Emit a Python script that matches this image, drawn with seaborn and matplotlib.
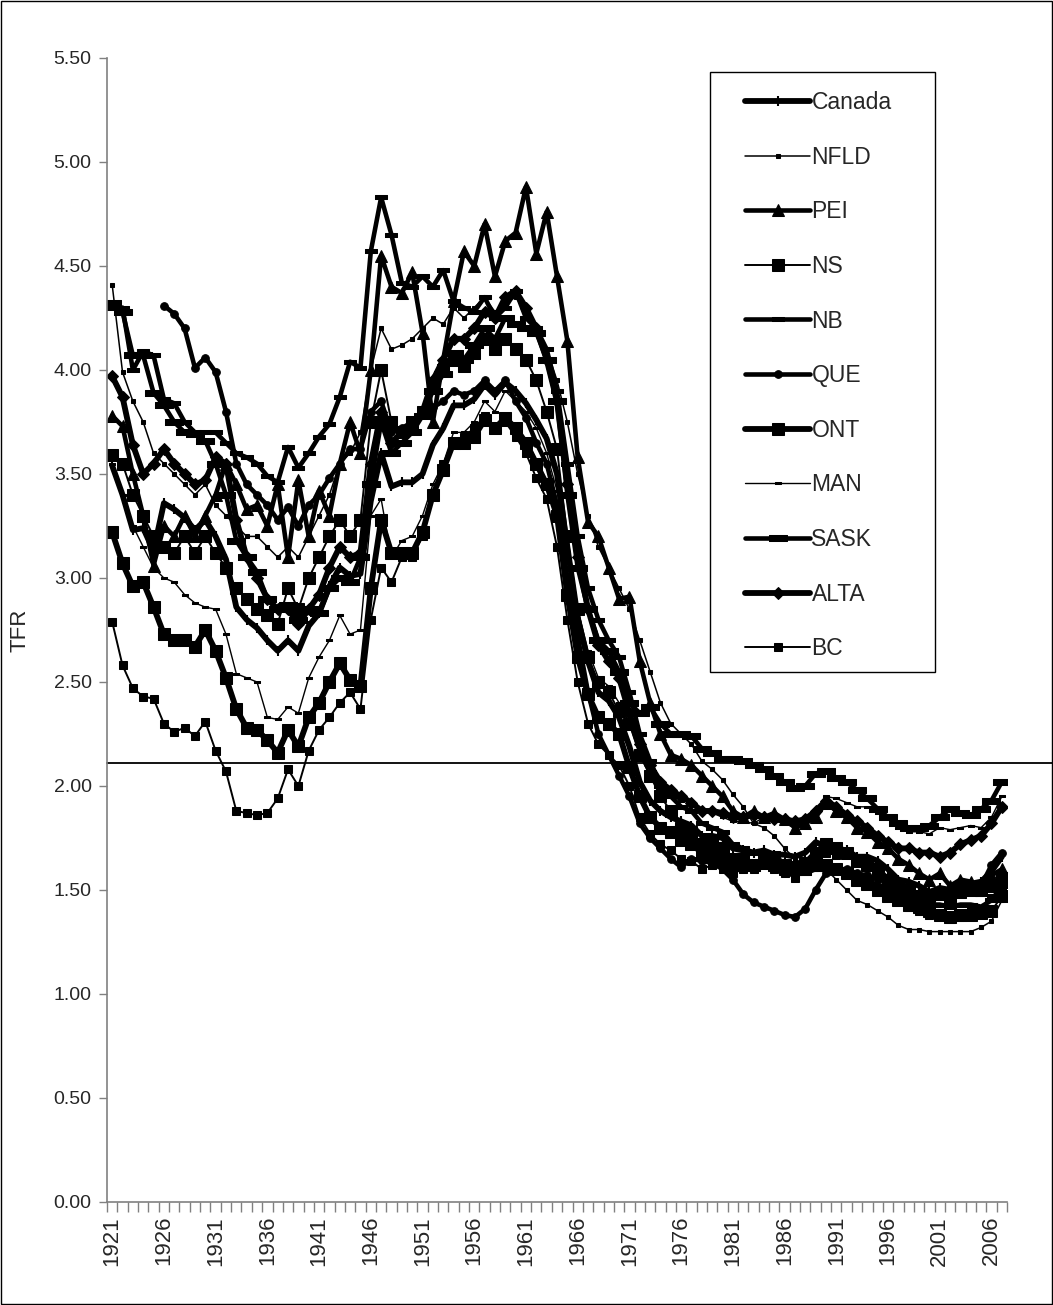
import matplotlib
matplotlib.use("Agg")
import matplotlib.pyplot as plt
import seaborn as sns
import numpy as np

# %%
years = list(range(1921, 2008))
nan = np.nan

canada = [3.54, 3.40, 3.23, 3.24, 3.13, 3.36, 3.33, 3.29, 3.23, 3.28,  # 1921
          3.20, 3.09, 2.86, 2.80, 2.76, 2.70, 2.65, 2.70, 2.65, 2.77,  # 1931
          2.83, 2.96, 3.05, 3.01, 3.02, 3.37, 3.60, 3.44, 3.46, 3.46,  # 1941
          3.50, 3.64, 3.72, 3.83, 3.83, 3.86, 3.93, 3.88, 3.94, 3.90,  # 1951
          3.84, 3.76, 3.67, 3.50, 3.15, 2.81, 2.60, 2.45, 2.41, 2.33,  # 1961
          2.19, 2.02, 1.93, 1.88, 1.85, 1.83, 1.81, 1.76, 1.76, 1.75,  # 1971
          1.70, 1.69, 1.68, 1.69, 1.67, 1.67, 1.66, 1.68, 1.73, 1.71,  # 1981
          1.70, 1.69, 1.66, 1.66, 1.64, 1.60, 1.55, 1.54, 1.52, 1.49,  # 1991
          1.51, 1.50, 1.53, 1.53, 1.54, 1.59, 1.66]                    # 2001
nfld = [4.41, 3.99, 3.85, 3.75, 3.60, 3.55, 3.50, 3.45, 3.40, 3.45,
        3.35, 3.30, 3.25, 3.20, 3.20, 3.15, 3.10, 3.15, 3.10, 3.20,
        3.30, 3.40, 3.55, 3.60, 3.70, 4.00, 4.20, 4.10, 4.12, 4.15,
        4.20, 4.25, 4.22, 4.30, 4.25, 4.30, 4.35, 4.28, 4.32, 4.35,
        4.28, 4.20, 4.10, 3.95, 3.75, 3.50, 3.30, 3.15, 3.05, 2.95,
        2.85, 2.70, 2.55, 2.40, 2.30, 2.25, 2.20, 2.12, 2.08, 2.03,
        1.96, 1.90, 1.82, 1.80, 1.76, 1.70, 1.65, 1.62, 1.60, 1.60,
        1.55, 1.50, 1.45, 1.43, 1.40, 1.37, 1.33, 1.31, 1.31, 1.30,
        1.30, 1.30, 1.30, 1.30, 1.32, 1.35, 1.45]
pei = [3.78, 3.73, 3.50, 3.30, 3.06, 3.25, 3.20, 3.30, 3.20, 3.30,
       3.40, 3.55, 3.45, 3.33, 3.35, 3.25, 3.45, 3.10, 3.47, 3.20,
       3.42, 3.30, 3.55, 3.75, 3.60, 4.00, 4.55, 4.40, 4.37, 4.47,
       4.18, 3.75, 4.05, 4.33, 4.57, 4.50, 4.70, 4.45, 4.62, 4.66,
       4.88, 4.56, 4.76, 4.45, 4.14, 3.58, 3.27, 3.20, 3.05, 2.90,
       2.91, 2.60, 2.40, 2.25, 2.15, 2.13, 2.10, 2.05, 2.00, 1.95,
       1.88, 1.85, 1.88, 1.85, 1.87, 1.84, 1.80, 1.82, 1.85, 1.92,
       1.88, 1.85, 1.80, 1.78, 1.73, 1.70, 1.65, 1.62, 1.58, 1.55,
       1.58, 1.52, 1.55, 1.54, 1.50, 1.57, 1.60]
ns = [3.59, 3.55, 3.40, 3.30, 3.20, 3.15, 3.12, 3.20, 3.12, 3.20,
      3.12, 3.05, 2.95, 2.90, 2.85, 2.82, 2.78, 2.95, 2.85, 3.00,
      3.10, 3.20, 3.28, 3.20, 3.28, 3.75, 4.00, 3.75, 3.70, 3.75,
      3.80, 3.92, 4.00, 4.05, 4.02, 4.08, 4.15, 4.10, 4.15, 4.10,
      4.05, 3.95, 3.80, 3.62, 3.20, 2.85, 2.62, 2.50, 2.45, 2.36,
      2.30, 2.15, 2.05, 1.95, 1.88, 1.80, 1.78, 1.72, 1.72, 1.70,
      1.65, 1.65, 1.62, 1.65, 1.66, 1.62, 1.60, 1.60, 1.62, 1.62,
      1.60, 1.58, 1.55, 1.53, 1.50, 1.47, 1.45, 1.43, 1.42, 1.40,
      1.38, 1.37, 1.38, 1.38, 1.39, 1.40, 1.47]
nb = [4.30, 4.30, 4.00, 4.09, 4.07, 3.86, 3.84, 3.75, 3.70, 3.70,
      3.70, 3.65, 3.60, 3.58, 3.55, 3.49, 3.46, 3.63, 3.53, 3.60,
      3.68, 3.74, 3.87, 4.04, 4.01, 4.57, 4.83, 4.65, 4.42, 4.40,
      4.45, 4.40, 4.48, 4.33, 4.30, 4.28, 4.35, 4.25, 4.30, 4.38,
      4.25, 4.20, 4.10, 3.90, 3.55, 3.20, 2.95, 2.80, 2.70, 2.62,
      2.45, 2.25, 2.12, 2.00, 1.95, 1.90, 1.88, 1.82, 1.80, 1.78,
      1.72, 1.70, 1.68, 1.68, 1.66, 1.63, 1.60, 1.58, 1.60, 1.62,
      1.60, 1.58, 1.56, 1.55, 1.52, 1.50, 1.48, 1.46, 1.45, 1.43,
      1.43, 1.42, 1.43, 1.43, 1.42, 1.45, 1.52]
que = [nan, nan, nan, nan, nan, 4.31, 4.27, 4.20, 4.01, 4.06,
       3.99, 3.80, 3.55, 3.45, 3.40, 3.35, 3.28, 3.34, 3.25, 3.35,
       3.40, 3.48, 3.55, 3.62, 3.62, 3.80, 3.85, 3.70, 3.72, 3.75,
       3.80, 3.82, 3.85, 3.90, 3.88, 3.90, 3.95, 3.90, 3.95, 3.85,
       3.77, 3.65, 3.55, 3.35, 3.00, 2.72, 2.45, 2.25, 2.15, 2.05,
       1.95, 1.82, 1.75, 1.70, 1.65, 1.61, 1.65, 1.64, 1.63, 1.60,
       1.55, 1.48, 1.44, 1.42, 1.40, 1.38, 1.37, 1.41, 1.50, 1.58,
       1.60, 1.60, 1.58, 1.57, 1.55, 1.55, 1.50, 1.47, 1.46, 1.44,
       1.47, 1.46, 1.49, 1.49, 1.52, 1.62, 1.68]
ont = [3.22, 3.07, 2.96, 2.98, 2.86, 2.73, 2.70, 2.70, 2.67, 2.75,
       2.65, 2.52, 2.37, 2.28, 2.27, 2.22, 2.16, 2.27, 2.19, 2.33,
       2.40, 2.50, 2.59, 2.51, 2.48, 2.95, 3.28, 3.12, 3.12, 3.12,
       3.22, 3.40, 3.52, 3.65, 3.65, 3.68, 3.76, 3.72, 3.77, 3.72,
       3.65, 3.55, 3.45, 3.30, 2.92, 2.62, 2.44, 2.33, 2.30, 2.25,
       2.09, 1.95, 1.85, 1.80, 1.78, 1.74, 1.72, 1.68, 1.66, 1.65,
       1.62, 1.62, 1.62, 1.64, 1.62, 1.60, 1.61, 1.63, 1.68, 1.72,
       1.70, 1.68, 1.64, 1.62, 1.60, 1.55, 1.52, 1.50, 1.47, 1.47,
       1.48, 1.46, 1.49, 1.50, 1.50, 1.52, 1.56]
man = [3.55, 3.40, 3.25, 3.15, 3.05, 3.00, 2.98, 2.92, 2.88, 2.86,
       2.85, 2.73, 2.54, 2.52, 2.50, 2.33, 2.32, 2.38, 2.35, 2.52,
       2.62, 2.70, 2.82, 2.73, 2.75, 3.30, 3.38, 3.10, 3.18, 3.20,
       3.30, 3.45, 3.55, 3.70, 3.70, 3.75, 3.85, 3.80, 3.90, 3.85,
       3.80, 3.72, 3.60, 3.42, 3.10, 2.85, 2.65, 2.52, 2.48, 2.40,
       2.30, 2.15, 2.05, 1.98, 1.95, 1.93, 1.92, 1.88, 1.87, 1.85,
       1.83, 1.83, 1.82, 1.85, 1.83, 1.82, 1.80, 1.82, 1.87, 1.95,
       1.94, 1.92, 1.90, 1.90, 1.87, 1.85, 1.80, 1.78, 1.78, 1.77,
       1.80, 1.79, 1.80, 1.81, 1.80, 1.85, 1.95]
sask = [4.32, 4.28, 4.07, 4.07, 3.89, 3.83, 3.75, 3.70, 3.69, 3.66,
        3.55, 3.40, 3.18, 3.10, 3.03, 2.90, 2.85, 2.87, 2.80, 2.85,
        2.83, 2.95, 3.00, 2.98, 3.10, 3.45, 3.75, 3.60, 3.65, 3.70,
        3.78, 3.90, 3.98, 4.08, 4.05, 4.12, 4.20, 4.15, 4.25, 4.22,
        4.20, 4.18, 4.05, 3.85, 3.40, 3.05, 2.85, 2.70, 2.65, 2.55,
        2.40, 2.35, 2.38, 2.30, 2.25, 2.25, 2.24, 2.18, 2.16, 2.13,
        2.13, 2.12, 2.10, 2.08, 2.05, 2.02, 1.99, 2.00, 2.06, 2.07,
        2.04, 2.02, 1.98, 1.94, 1.89, 1.85, 1.82, 1.80, 1.80, 1.81,
        1.85, 1.89, 1.87, 1.86, 1.89, 1.93, 2.02]
alta = [3.97, 3.87, 3.64, 3.50, 3.55, 3.62, 3.55, 3.50, 3.45, 3.47,
        3.58, 3.55, 3.28, 3.10, 3.00, 2.90, 2.85, 2.85, 2.78, 2.85,
        2.92, 3.05, 3.15, 3.10, 3.12, 3.55, 3.80, 3.65, 3.70, 3.72,
        3.80, 3.95, 4.05, 4.15, 4.15, 4.20, 4.28, 4.25, 4.35, 4.38,
        4.30, 4.20, 4.05, 3.85, 3.45, 3.10, 2.85, 2.68, 2.60, 2.52,
        2.35, 2.20, 2.10, 2.02, 1.98, 1.95, 1.92, 1.88, 1.88, 1.87,
        1.85, 1.85, 1.86, 1.85, 1.84, 1.84, 1.83, 1.84, 1.88, 1.93,
        1.90, 1.86, 1.83, 1.80, 1.76, 1.73, 1.70, 1.70, 1.68, 1.68,
        1.66, 1.68, 1.72, 1.74, 1.76, 1.82, 1.90]
bc = [2.79, 2.58, 2.47, 2.43, 2.42, 2.30, 2.26, 2.28, 2.24, 2.31,
      2.17, 2.07, 1.88, 1.87, 1.86, 1.87, 1.94, 2.08, 2.00, 2.17,
      2.27, 2.33, 2.40, 2.45, 2.37, 2.80, 3.05, 2.98, 3.10, 3.10,
      3.20, 3.40, 3.55, 3.65, 3.68, 3.72, 3.78, 3.72, 3.75, 3.68,
      3.60, 3.48, 3.38, 3.15, 2.80, 2.50, 2.30, 2.20, 2.15, 2.10,
      2.00, 1.85, 1.77, 1.72, 1.69, 1.65, 1.64, 1.60, 1.62, 1.60,
      1.58, 1.60, 1.60, 1.62, 1.60, 1.58, 1.56, 1.60, 1.65, 1.68,
      1.67, 1.68, 1.65, 1.62, 1.58, 1.52, 1.46, 1.42, 1.40, 1.38,
      1.38, 1.36, 1.37, 1.40, 1.41, 1.46, 1.50]

replacement = 2.11
ytick_vals = [0, 0.5, 1, 1.5, 2, 2.5, 3, 3.5, 4, 4.5, 5, 5.5]

# %%
dash = [(-1, -0.28), (1, -0.28), (1, 0.28), (-1, 0.28), (-1, -0.28)]
series = [
    ("Canada", canada, dict(linewidth=4.2, marker="|", markersize=7, markeredgewidth=1.5)),
    ("NFLD", nfld, dict(linewidth=1.1, marker="s", markersize=3.5)),
    ("PEI", pei, dict(linewidth=3.3, marker="^", markersize=8)),
    ("NS", ns, dict(linewidth=1.4, marker="s", markersize=8)),
    ("NB", nb, dict(linewidth=3.3, marker=dash, markersize=8)),
    ("QUE", que, dict(linewidth=3.3, marker="o", markersize=5.5)),
    ("ONT", ont, dict(linewidth=4.2, marker="s", markersize=8.5)),
    ("MAN", man, dict(linewidth=1.0, marker=dash, markersize=5)),
    ("SASK", sask, dict(linewidth=3.3, marker=dash, markersize=13)),
    ("ALTA", alta, dict(linewidth=4.2, marker="D", markersize=6)),
    ("BC", bc, dict(linewidth=1.4, marker="s", markersize=6)),
]

# %%
sns.set_style("white")
plt.rcParams["font.family"] = ["Liberation Sans", "DejaVu Sans"]

W, H = 1053, 1305
fig = plt.figure(figsize=(W / 100, H / 100), dpi=100)
ax = fig.add_axes([107 / W, 103 / H, 900 / W, 1144 / H])

for name, vals, style in series:
    sns.lineplot(x=years, y=vals, ax=ax, color="black", label=name,
                 markerfacecolor="black", markeredgecolor="black",
                 errorbar=None, **style)

ax.set_xlim(1920.5, 2007.5)
ax.set_ylim(0, 5.5)

# replacement level line runs past the plot area to the chart edge
ax.axhline(replacement, xmin=0, xmax=(W - 107) / 900, color="black",
           linewidth=1.3, clip_on=False, zorder=1)

ax.set_xticks(years[::5])
ax.set_xticklabels([str(y) for y in years[::5]], rotation=90, fontsize=16)
ax.set_xticks(np.arange(1920.5, 2008, 1), minor=True)
ax.tick_params(axis="x", which="major", length=0, pad=10)
ax.tick_params(axis="x", which="minor", length=7, width=1, color="#808080",
               direction="out", bottom=True)
ax.set_yticks(ytick_vals)
ax.set_yticklabels(["%.2f" % v for v in ytick_vals], fontsize=14)
ax.tick_params(axis="y", length=6, width=1, color="#808080", direction="out",
               left=True, pad=5)

for side in ["top", "right"]:
    ax.spines[side].set_visible(False)
for side in ["left", "bottom"]:
    ax.spines[side].set_color("#808080")
    ax.spines[side].set_linewidth(1.2)

ax.set_xlabel("")
ax.set_ylabel("TFR", fontsize=16)
ax.yaxis.set_label_coords(-0.085, 0.5)

# legend box drawn separately so the padding matches the original
fig.add_artist(plt.Rectangle((710 / W, 1 - 672 / H), 225 / W, 600 / H,
                             transform=fig.transFigure, fill=False,
                             edgecolor="black", linewidth=1.0))
leg = ax.legend(loc="upper left", bbox_to_anchor=(745 / W, 1 - 91 / H),
                bbox_transform=fig.transFigure, frameon=False,
                fontsize=16.5, labelspacing=1.38, handlelength=2.85,
                handletextpad=0.05, borderpad=0, numpoints=1,
                borderaxespad=0)

fig.add_artist(plt.Rectangle((0.0005, 0.0005), 0.999, 0.999,
                             transform=fig.transFigure, fill=False,
                             edgecolor="black", linewidth=1.0))

plt.savefig("out.png", dpi=100)
